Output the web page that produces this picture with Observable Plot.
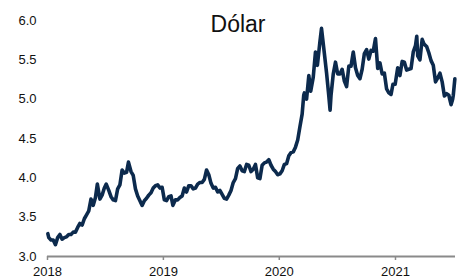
<!DOCTYPE html>
<html>
<head>
<meta charset="utf-8">
<script src="https://cdn.jsdelivr.net/npm/d3@7"></script>
<script src="https://cdn.jsdelivr.net/npm/@observablehq/plot@0.6"></script>
<style>
  html, body { margin: 0; padding: 0; background: #fff; }
  #wrap { position: relative; width: 465px; height: 278px; font-family: "Liberation Sans", Arial, sans-serif; }
  #title { position: absolute; left: 0; width: 476px; top: 13px; text-align: center; font-size: 23px; line-height: 23px; color: #111; }
</style>
</head>
<body>
<div id="wrap"><div id="title">Dólar</div></div>
<script>
const title = "Dólar";
const yTicks = [3.0, 3.5, 4.0, 4.5, 5.0, 5.5, 6.0];
const xTickYears = ["2018", "2019", "2020", "2021"];

const dates = [
  "2018-01-02","2018-01-05","2018-01-12","2018-01-19","2018-01-26","2018-02-02","2018-02-09","2018-02-16","2018-02-23",
  "2018-03-02","2018-03-09","2018-03-16","2018-03-23","2018-03-30","2018-04-06","2018-04-13","2018-04-20","2018-04-27",
  "2018-05-04","2018-05-11","2018-05-18","2018-05-25","2018-06-01","2018-06-07","2018-06-15","2018-06-22","2018-06-29",
  "2018-07-05","2018-07-13","2018-07-20","2018-07-27","2018-08-03","2018-08-10","2018-08-17","2018-08-24","2018-08-31",
  "2018-09-07","2018-09-13","2018-09-21","2018-09-28","2018-10-05","2018-10-12","2018-10-19","2018-10-26","2018-11-02",
  "2018-11-09","2018-11-16","2018-11-23","2018-11-30","2018-12-07","2018-12-14","2018-12-21","2018-12-28",
  "2019-01-04","2019-01-11","2019-01-18","2019-01-25","2019-01-31","2019-02-08","2019-02-15","2019-02-22","2019-03-01",
  "2019-03-08","2019-03-15","2019-03-22","2019-03-29","2019-04-05","2019-04-12","2019-04-19","2019-04-26","2019-05-03",
  "2019-05-10","2019-05-17","2019-05-24","2019-05-31","2019-06-07","2019-06-14","2019-06-21","2019-06-28","2019-07-05",
  "2019-07-12","2019-07-19","2019-07-26","2019-08-02","2019-08-09","2019-08-16","2019-08-23","2019-08-30","2019-09-06",
  "2019-09-13","2019-09-20","2019-09-27","2019-10-04","2019-10-11","2019-10-18","2019-10-25","2019-11-01","2019-11-08",
  "2019-11-15","2019-11-22","2019-11-29","2019-12-06","2019-12-13","2019-12-20","2019-12-27",
  "2020-01-03","2020-01-10","2020-01-17","2020-01-24","2020-01-31","2020-02-07","2020-02-14","2020-02-21","2020-02-28",
  "2020-03-06","2020-03-13","2020-03-18","2020-03-20","2020-03-27","2020-04-03","2020-04-09","2020-04-17","2020-04-24",
  "2020-04-30","2020-05-08","2020-05-13","2020-05-22","2020-05-29","2020-06-05","2020-06-09","2020-06-12","2020-06-19",
  "2020-06-26","2020-07-03","2020-07-10","2020-07-17","2020-07-24","2020-07-31","2020-08-07","2020-08-14","2020-08-21",
  "2020-08-28","2020-09-04","2020-09-11","2020-09-18","2020-09-25","2020-10-02","2020-10-09","2020-10-16","2020-10-23",
  "2020-10-30","2020-11-06","2020-11-13","2020-11-20","2020-11-27","2020-12-04","2020-12-11","2020-12-18","2020-12-24",
  "2020-12-31",
  "2021-01-08","2021-01-15","2021-01-22","2021-01-29","2021-02-05","2021-02-12","2021-02-19","2021-02-26","2021-03-05",
  "2021-03-09","2021-03-12","2021-03-19","2021-03-26","2021-04-01","2021-04-09","2021-04-16","2021-04-23","2021-04-30",
  "2021-05-07","2021-05-14","2021-05-21","2021-05-28","2021-06-04","2021-06-11","2021-06-18","2021-06-25","2021-06-30",
  "2021-07-02","2021-07-07"
];

const rates = [
  3.29,3.24,3.21,3.21,3.15,3.24,3.28,3.22,3.24,
  3.25,3.28,3.28,3.31,3.31,3.37,3.42,3.40,3.48,
  3.53,3.58,3.73,3.65,3.75,3.92,3.73,3.78,3.87,
  3.92,3.84,3.76,3.72,3.71,3.86,3.91,4.10,4.06,
  4.07,4.20,4.08,4.03,3.86,3.77,3.71,3.65,3.71,
  3.74,3.78,3.81,3.87,3.90,3.91,3.87,3.88,
  3.72,3.71,3.76,3.77,3.65,3.72,3.72,3.75,3.77,
  3.87,3.82,3.90,3.90,3.86,3.87,3.92,3.94,3.94,
  3.98,4.10,4.04,3.93,3.87,3.88,3.82,3.84,3.79,
  3.74,3.73,3.78,3.84,3.94,3.99,4.12,4.15,4.09,
  4.08,4.17,4.16,4.08,4.11,4.17,4.00,3.99,4.16,
  4.19,4.20,4.23,4.16,4.11,4.08,4.04,
  4.05,4.09,4.17,4.18,4.28,4.32,4.33,4.39,4.48,
  4.65,4.81,5.05,5.08,5.00,5.30,5.10,5.28,5.60,
  5.43,5.73,5.90,5.58,5.33,5.04,4.86,5.05,5.32,
  5.47,5.32,5.32,5.38,5.23,5.16,5.42,5.42,5.60,
  5.40,5.30,5.26,5.38,5.58,5.63,5.51,5.62,5.61,
  5.77,5.39,5.46,5.32,5.33,5.13,5.08,5.06,5.19,
  5.19,
  5.40,5.30,5.48,5.47,5.37,5.38,5.39,5.60,5.68,
  5.80,5.55,5.50,5.76,5.70,5.67,5.59,5.49,5.43,
  5.22,5.27,5.33,5.22,5.04,5.07,5.05,4.93,5.00,
  5.05,5.26
];

const series = dates.map((d, i) => ({date: new Date(d + "T00:00:00Z"), value: rates[i]}));
const yearTicks = xTickYears.map(y => new Date(y + "-01-01T00:00:00Z"));

const chart = Plot.plot({
  width: 465,
  height: 278,
  marginTop: 20,
  marginBottom: 22,
  marginLeft: 47,
  marginRight: 10,
  style: {fontFamily: "'Liberation Sans', Arial, sans-serif", fontSize: "13px", background: "transparent"},
  x: {type: "utc", domain: [new Date("2018-01-01T00:00:00Z"), new Date("2021-07-09T00:00:00Z")]},
  y: {domain: [3, 6]},
  marks: [
    Plot.axisY({ticks: yTicks, tickFormat: d3.format(".1f"), tickSize: 0, tickPadding: 11, fill: "#111", label: null, fontSize: 13}),
    Plot.axisX({ticks: yearTicks, tickFormat: d3.utcFormat("%Y"), tickSize: 4, tickPadding: 6, stroke: "#8a8a8a", strokeWidth: 1.5, fill: "#111", label: null, fontSize: 13}),
    Plot.ruleY([3], {stroke: "#8a8a8a", strokeWidth: 2}),
    Plot.line(series, {x: "date", y: "value", stroke: "#0c2a4d", strokeWidth: 3.6, strokeLinejoin: "round"})
  ]
});
document.getElementById("wrap").prepend(chart);
</script>
</body>
</html>
